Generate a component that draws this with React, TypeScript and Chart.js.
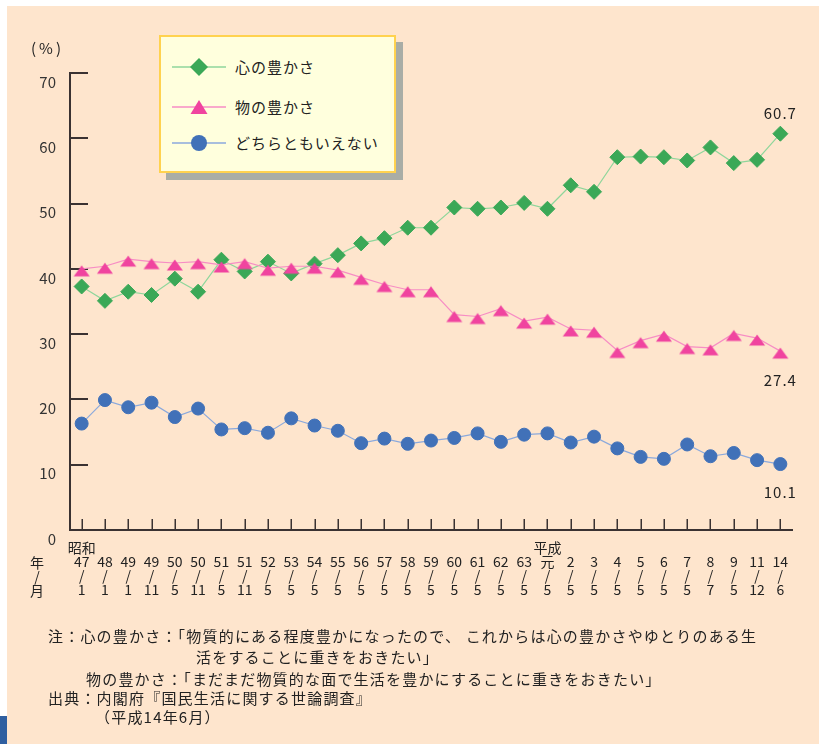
import React, { useEffect, useRef } from 'react';
import { Chart, registerables } from 'chart.js';

Chart.register(...registerables);

// ---------- data ----------
const eraLabels = ['昭和', '', '', '', '', '', '', '', '', '', '', '', '', '', '', '', '', '', '', '', '平成', '', '', '', '', '', '', '', '', '', ''];
const yearLabels = ['47', '48', '49', '49', '50', '50', '51', '51', '52', '53', '54', '55', '56', '57', '58', '59', '60', '61', '62', '63', '元', '2', '3', '4', '5', '6', '7', '8', '9', '11', '14'];
const monthLabels = ['1', '1', '1', '11', '5', '11', '5', '11', '5', '5', '5', '5', '5', '5', '5', '5', '5', '5', '5', '5', '5', '5', '5', '5', '5', '5', '5', '7', '5', '12', '6'];

const seriesNames = ['心の豊かさ', '物の豊かさ', 'どちらともいえない'];
const kokoro = [37.3, 35.1, 36.5, 36.0, 38.5, 36.5, 41.4, 39.6, 41.1, 39.3, 40.8, 42.1, 43.9, 44.7, 46.3, 46.3, 49.4, 49.2, 49.4, 50.1, 49.2, 52.8, 51.8, 57.1, 57.2, 57.1, 56.6, 58.6, 56.2, 56.7, 60.7];
const mono = [40.0, 40.4, 41.5, 41.1, 40.9, 41.1, 40.6, 41.1, 40.1, 40.4, 40.4, 39.8, 38.7, 37.6, 36.8, 36.8, 33.0, 32.7, 33.9, 32.0, 32.6, 30.8, 30.6, 27.5, 29.0, 30.0, 28.1, 27.9, 30.1, 29.4, 27.4];
const dochira = [16.3, 19.9, 18.8, 19.5, 17.3, 18.6, 15.4, 15.6, 14.9, 17.1, 16.0, 15.2, 13.3, 14.0, 13.2, 13.7, 14.1, 14.8, 13.5, 14.6, 14.8, 13.4, 14.3, 12.5, 11.2, 10.9, 13.1, 11.3, 11.8, 10.7, 10.1];

const yMin = 0;
const yMax = 70;
const yStep = 10;
const yUnit = '(%)';

const noteLines = [
  '注：心の豊かさ：「物質的にある程度豊かになったので、 これからは心の豊かさやゆとりのある生',
  '活をすることに重きをおきたい」',
  '物の豊かさ：「まだまだ物質的な面で生活を豊かにすることに重きをおきたい」',
  '出典：内閣府『国民生活に関する世論調査』',
  '（平成14年6月）',
];

// ---------- styles ----------
const FONT = '"Noto Sans CJK JP", "Noto Sans", sans-serif';
const TEXT = '#222222';
const AXIS = '#3a3232';
const BG = '#fee5cd';
const GREEN = '#3ba857';
const GREEN_LINE = '#8fd69b';
const PINK = '#f0449f';
const PINK_LINE = '#f78dc4';
const BLUE = '#4171b8';
const BLUE_LINE = '#8ba9dc';

function makeTriangle(color: string): HTMLCanvasElement {
  const c = document.createElement('canvas');
  c.width = 20;
  c.height = 20;
  const ctx = c.getContext('2d')!;
  ctx.fillStyle = color;
  ctx.beginPath();
  ctx.moveTo(10, 6.5);
  ctx.lineTo(18, 17.5);
  ctx.lineTo(2, 17.5);
  ctx.closePath();
  ctx.fill();
  return c;
}

const innerTicks = {
  id: 'innerTicks',
  beforeDatasetsDraw(chart: any) {
    const { ctx, chartArea, scales } = chart;
    const x = scales.x;
    const y = scales.y;
    ctx.save();
    ctx.strokeStyle = AXIS;
    ctx.lineWidth = 2;
    y.ticks.forEach((t: any) => {
      if (t.value === yMin) return;
      const py = Math.round(y.getPixelForValue(t.value));
      ctx.beginPath();
      ctx.moveTo(chartArea.left, py);
      ctx.lineTo(chartArea.left + 18, py);
      ctx.stroke();
    });
    ctx.lineWidth = 1.5;
    x.ticks.forEach((_t: any, i: number) => {
      const px = Math.round(x.getPixelForTick(i)) + 0.25;
      ctx.beginPath();
      ctx.moveTo(px, chartArea.bottom);
      ctx.lineTo(px, chartArea.bottom - 11);
      ctx.stroke();
    });
    ctx.restore();
  },
};

const lastValueLabels = {
  id: 'lastValueLabels',
  afterDatasetsDraw(chart: any) {
    const ctx = chart.ctx;
    const offsets = [-20, 29, 28];
    chart.data.datasets.forEach((ds: any, i: number) => {
      const meta = chart.getDatasetMeta(i);
      const pt = meta.data[meta.data.length - 1];
      const v = ds.data[ds.data.length - 1];
      ctx.save();
      ctx.font = `15px ${FONT}`;
      (ctx as any).letterSpacing = '1px';
      ctx.fillStyle = TEXT;
      ctx.textAlign = 'center';
      ctx.textBaseline = 'middle';
      ctx.fillText(Number(v).toFixed(1), pt.x, pt.y + offsets[i]);
      ctx.restore();
    });
  },
};

function LegendMarker({ kind, color, line }: { kind: string; color: string; line: string }) {
  let marker: React.ReactNode = null;
  if (kind === 'diamond') marker = <polygon points="29,1 38,10 29,19 20,10" fill={color} />;
  if (kind === 'triangle') marker = <polygon points="29,3 37.5,17 20.5,17" fill={color} />;
  if (kind === 'circle') marker = <circle cx={29} cy={10} r={8} fill={color} />;
  return (
    <svg width={60} height={20} style={{ position: 'absolute', left: 0, top: 0 }}>
      <line x1={2} y1={10} x2={56} y2={10} stroke={line} strokeWidth={1.5} />
      {marker}
    </svg>
  );
}

export default function App() {
  const canvasRef = useRef<HTMLCanvasElement | null>(null);

  useEffect(() => {
    const canvas = canvasRef.current;
    if (!canvas) return;
    const tri = makeTriangle(PINK);
    const chart = new Chart(canvas, {
      type: 'line',
      data: {
        labels: yearLabels.map((y, i) => [eraLabels[i], y, '/', monthLabels[i]]),
        datasets: [
          {
            label: seriesNames[0],
            data: kokoro,
            borderColor: GREEN_LINE,
            borderWidth: 1.2,
            pointStyle: 'rectRot',
            pointRadius: 7.5,
            pointBackgroundColor: GREEN,
            pointBorderColor: GREEN,
            pointBorderWidth: 1,
            tension: 0,
            clip: false,
            order: 2,
          },
          {
            label: seriesNames[1],
            data: mono,
            borderColor: PINK_LINE,
            borderWidth: 1.2,
            pointStyle: tri,
            pointRadius: 8,
            pointBackgroundColor: PINK,
            pointBorderColor: PINK,
            tension: 0,
            clip: false,
            order: 1,
          },
          {
            label: seriesNames[2],
            data: dochira,
            borderColor: BLUE_LINE,
            borderWidth: 1.2,
            pointStyle: 'circle',
            pointRadius: 6.5,
            pointBackgroundColor: BLUE,
            pointBorderColor: BLUE,
            pointBorderWidth: 1,
            tension: 0,
            clip: false,
            order: 3,
          },
        ],
      } as any,
      options: {
        responsive: false,
        animation: false,
        devicePixelRatio: 1,
        layout: { padding: { left: 0, top: 73, right: 27, bottom: 0 } },
        plugins: {
          legend: { display: false },
          tooltip: { enabled: false },
          title: { display: false },
        },
        scales: {
          x: {
            type: 'category',
            offset: true,
            grid: { display: false, drawTicks: false },
            border: { display: true, color: AXIS, width: 2 },
            ticks: {
              autoSkip: false,
              maxRotation: 0,
              minRotation: 0,
              padding: 11,
              color: TEXT,
              font: { family: FONT, size: 14, lineHeight: 1 },
            },
            afterFit: (s: any) => {
              s.height = 214;
            },
          },
          y: {
            type: 'linear',
            min: yMin,
            max: yMax,
            grid: { display: false, drawTicks: false },
            border: { display: true, color: AXIS, width: 2 },
            ticks: {
              stepSize: yStep,
              padding: 14,
              labelOffset: 9,
              color: '#333333',
              font: { family: FONT, size: 15 },
            },
            afterFit: (s: any) => {
              s.width = 70;
            },
          },
        },
      } as any,
      plugins: [innerTicks, lastValueLabels],
    });
    return () => chart.destroy();
  }, []);

  const legendRows = [
    { kind: 'diamond', color: GREEN, line: GREEN_LINE, y: 67 },
    { kind: 'triangle', color: PINK, line: PINK_LINE, y: 107 },
    { kind: 'circle', color: BLUE, line: BLUE_LINE, y: 143 },
  ];

  const noteStyle: React.CSSProperties = {
    position: 'absolute',
    fontFamily: FONT,
    fontSize: 15,
    lineHeight: '20px',
    letterSpacing: '1.2px',
    color: TEXT,
    whiteSpace: 'pre',
  };
  const notePos = [
    { left: 48, top: 626 },
    { left: 196, top: 647 },
    { left: 86, top: 669 },
    { left: 48, top: 688 },
    { left: 95, top: 707 },
  ];

  return (
    <div style={{ position: 'fixed', left: 0, top: 0, width: 819, height: 744, background: '#ffffff', overflow: 'hidden' }}>
      <div style={{ position: 'absolute', left: 7, top: 6, width: 812, height: 738, background: BG }} />
      <div style={{ position: 'absolute', left: 0, top: 716, width: 7, height: 28, background: '#2f5fa0' }} />
      <canvas ref={canvasRef} width={819} height={744} style={{ position: 'absolute', left: 0, top: 0, width: 819, height: 744 }} />
      <div style={{ position: 'absolute', left: 31, top: 38, fontFamily: FONT, fontSize: 15, lineHeight: '20px', letterSpacing: '3px', color: TEXT }}>{yUnit}</div>
      {['年', '/', '月'].map((t, i) => (
        <div key={i} style={{ position: 'absolute', left: 27, width: 20, textAlign: 'center', top: 555 + i * 14, fontFamily: FONT, fontSize: 14, lineHeight: '14px', color: TEXT }}>{t}</div>
      ))}
      <div style={{ position: 'absolute', left: 166, top: 42, width: 237, height: 138, background: '#a9ada6' }} />
      <div style={{ position: 'absolute', left: 159, top: 35, width: 237, height: 138, background: '#ffffdd', border: '2px solid #ffd24f', boxSizing: 'border-box' }} />
      {legendRows.map((r, i) => (
        <div key={i} style={{ position: 'absolute', left: 170, top: r.y - 10, width: 230, height: 20 }}>
          <LegendMarker kind={r.kind} color={r.color} line={r.line} />
          <div style={{ position: 'absolute', left: 65, top: 0, fontFamily: FONT, fontSize: 15, lineHeight: '20px', letterSpacing: '1px', color: TEXT, whiteSpace: 'pre' }}>{seriesNames[i]}</div>
        </div>
      ))}
      {noteLines.map((t, i) => (
        <div key={i} style={{ ...noteStyle, left: notePos[i].left, top: notePos[i].top }}>{t}</div>
      ))}
    </div>
  );
}
